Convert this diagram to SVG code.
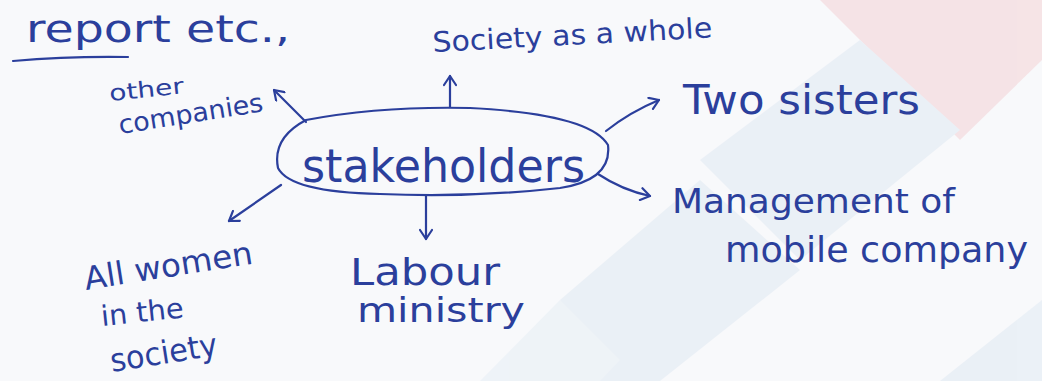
<svg xmlns="http://www.w3.org/2000/svg" width="1042" height="381" viewBox="0 0 1042 381">
<defs>
<marker id="ah" markerWidth="14" markerHeight="14" refX="11" refY="7" orient="auto" markerUnits="userSpaceOnUse">
<path d="M2,1 L11,7 L2,13" fill="none" stroke="#2b3f9c" stroke-width="2.2" stroke-linecap="round" stroke-linejoin="round"/>
</marker>
</defs>
<style>
.ink{fill:#2b3f9c;font-family:"DejaVu Sans","Liberation Sans",sans-serif;}
.ln{stroke:#2b3f9c;stroke-width:2.2;fill:none;stroke-linecap:round;}
</style>
<rect width="1042" height="381" fill="#f8f9fb"/>
<g id="watermark" opacity="0.45">
<polygon points="820,0 1042,0 1042,60 960,140" fill="#f3c9cd"/>
<polygon points="700,160 860,40 960,130 800,260" fill="#dbe6f1"/>
<polygon points="560,300 700,180 800,270 660,381 600,381" fill="#dbe6f1"/>
<polygon points="940,381 1042,300 1042,381" fill="#dbe6f1"/>
<polygon points="480,381 560,300 620,360 600,381" fill="#e3ecf4"/>
</g>
<g id="connectors">
<path class="ln" d="M450,107 L450,76" marker-end="url(#ah)"/>
<path class="ln" d="M306,122 L274,90" marker-end="url(#ah)"/>
<path class="ln" d="M606,131 Q630,112 659,100" marker-end="url(#ah)"/>
<path class="ln" d="M598,174 Q622,190 650,196" marker-end="url(#ah)"/>
<path class="ln" d="M426,196 L426,239" marker-end="url(#ah)"/>
<path class="ln" d="M281,185 L229,221" marker-end="url(#ah)"/>
<path class="ln" d="M13,61 Q70,56 128,57"/>
</g>
<g id="stakeholders">
<path class="ln" d="M306,120 Q380,106 470,108 Q590,114 608,145 Q612,180 560,188 Q470,198 380,194 Q290,192 278,168 Q272,138 306,120 Z"/>
<text class="ink" x="302" y="182" font-size="46" textLength="283" lengthAdjust="spacingAndGlyphs">stakeholders</text>
</g>
<g id="report">
<text class="ink" x="26" y="42" font-size="38" textLength="264" lengthAdjust="spacingAndGlyphs">report etc.,</text>
</g>
<g id="society-whole">
<text class="ink" x="433" y="52" font-size="28" textLength="280" lengthAdjust="spacingAndGlyphs" transform="rotate(-3 433 52)">Society as a whole</text>
</g>
<g id="other-companies">
<text class="ink" x="110" y="101" font-size="22" textLength="75" lengthAdjust="spacingAndGlyphs" transform="rotate(-6 110 101)">other</text>
<text class="ink" x="120" y="134" font-size="26" textLength="146" lengthAdjust="spacingAndGlyphs" transform="rotate(-9 120 134)">companies</text>
</g>
<g id="two-sisters">
<text class="ink" x="683" y="114" font-size="40" textLength="237" lengthAdjust="spacingAndGlyphs">Two sisters</text>
</g>
<g id="management">
<text class="ink" x="672" y="213" font-size="34" textLength="283" lengthAdjust="spacingAndGlyphs">Management of</text>
<text class="ink" x="725" y="262" font-size="36" textLength="303" lengthAdjust="spacingAndGlyphs">mobile company</text>
</g>
<g id="labour">
<text class="ink" x="350" y="285" font-size="38" textLength="150" lengthAdjust="spacingAndGlyphs">Labour</text>
<text class="ink" x="357" y="322" font-size="34" textLength="168" lengthAdjust="spacingAndGlyphs">ministry</text>
</g>
<g id="all-women">
<text class="ink" x="86" y="290" font-size="32" textLength="170" lengthAdjust="spacingAndGlyphs" transform="rotate(-9 86 290)">All women</text>
<text class="ink" x="102" y="326" font-size="28" textLength="83" lengthAdjust="spacingAndGlyphs" transform="rotate(-6 102 326)">in the</text>
<text class="ink" x="112" y="372" font-size="32" textLength="108" lengthAdjust="spacingAndGlyphs" transform="rotate(-9 112 372)">society</text>
</g>
</svg>
